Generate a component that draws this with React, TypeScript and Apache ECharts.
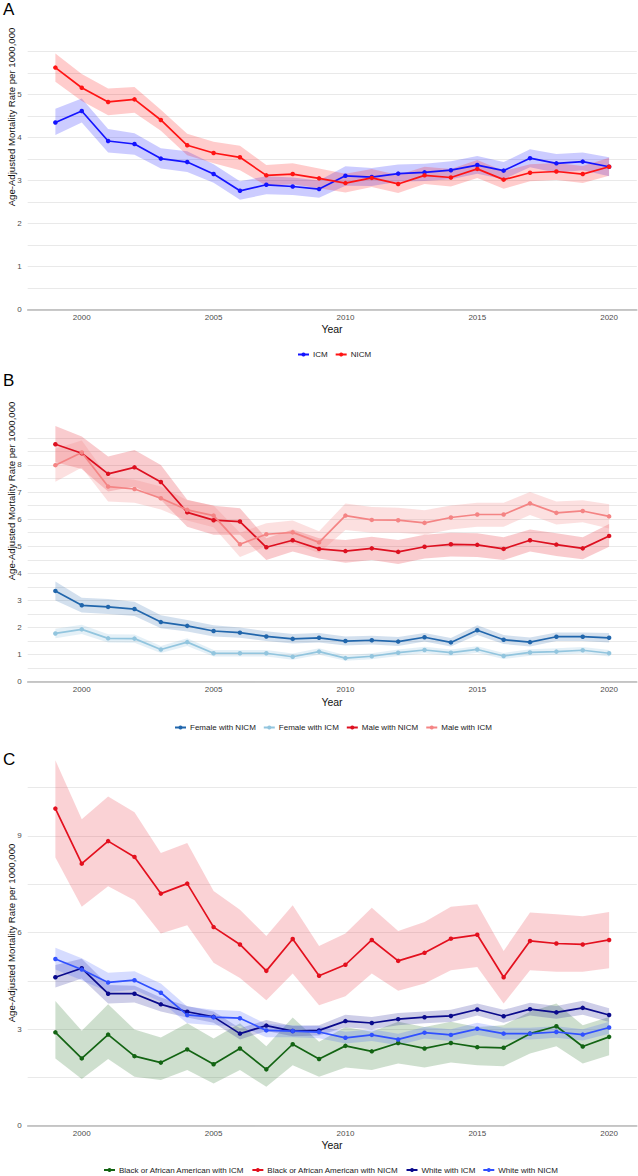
import React, { useEffect, useRef } from "react";
import * as echarts from "echarts";

// Years covered by every panel
const years = [1999, 2000, 2001, 2002, 2003, 2004, 2005, 2006, 2007, 2008, 2009, 2010, 2011, 2012, 2013, 2014, 2015, 2016, 2017, 2018, 2019, 2020];
const yearTicks = [2000, 2005, 2010, 2015, 2020];

// Panel A: overall ICM vs NICM
const icm = [4.35, 4.62, 3.92, 3.85, 3.51, 3.43, 3.15, 2.76, 2.9, 2.86, 2.8, 3.11, 3.08, 3.16, 3.19, 3.24, 3.36, 3.23, 3.52, 3.4, 3.44, 3.32];
const icmLo = [4.06, 4.35, 3.65, 3.6, 3.28, 3.2, 2.95, 2.55, 2.68, 2.66, 2.6, 2.88, 2.87, 2.97, 2.99, 3.03, 3.16, 3.03, 3.31, 3.18, 3.24, 3.1];
const icmHi = [4.67, 4.91, 4.2, 4.1, 3.75, 3.68, 3.38, 2.98, 3.1, 3.07, 3.0, 3.33, 3.29, 3.37, 3.39, 3.45, 3.57, 3.43, 3.73, 3.62, 3.65, 3.54];
const nicm = [5.63, 5.16, 4.83, 4.89, 4.41, 3.82, 3.64, 3.54, 3.12, 3.15, 3.05, 2.94, 3.06, 2.92, 3.12, 3.07, 3.27, 3.02, 3.18, 3.21, 3.15, 3.32];
const nicmLo = [5.3, 4.85, 4.52, 4.58, 4.16, 3.59, 3.4, 3.24, 2.88, 2.91, 2.82, 2.72, 2.85, 2.71, 2.92, 2.86, 3.06, 2.81, 2.98, 3.01, 2.94, 3.11];
const nicmHi = [5.96, 5.48, 5.14, 5.18, 4.65, 4.09, 3.9, 3.81, 3.36, 3.4, 3.28, 3.16, 3.27, 3.13, 3.32, 3.27, 3.48, 3.22, 3.38, 3.41, 3.34, 3.53];

// Panel B: by sex
const femNicm = [3.35, 2.82, 2.76, 2.68, 2.2, 2.06, 1.87, 1.81, 1.67, 1.58, 1.62, 1.5, 1.53, 1.48, 1.64, 1.45, 1.9, 1.55, 1.46, 1.66, 1.66, 1.62];
const femNicmLo = [3.0, 2.55, 2.5, 2.42, 1.97, 1.85, 1.67, 1.62, 1.5, 1.41, 1.45, 1.34, 1.37, 1.32, 1.48, 1.3, 1.72, 1.39, 1.3, 1.5, 1.5, 1.45];
const femNicmHi = [3.7, 3.1, 3.05, 2.95, 2.45, 2.28, 2.08, 2.0, 1.86, 1.76, 1.8, 1.67, 1.7, 1.65, 1.8, 1.61, 2.08, 1.72, 1.63, 1.82, 1.82, 1.8];
const femIcm = [1.78, 1.93, 1.6, 1.59, 1.19, 1.46, 1.05, 1.05, 1.05, 0.92, 1.11, 0.87, 0.94, 1.07, 1.17, 1.07, 1.19, 0.95, 1.08, 1.11, 1.16, 1.05];
const femIcmLo = [1.6, 1.76, 1.45, 1.44, 1.06, 1.32, 0.93, 0.93, 0.93, 0.81, 0.99, 0.77, 0.83, 0.95, 1.05, 0.95, 1.07, 0.84, 0.96, 0.99, 1.04, 0.93];
const femIcmHi = [1.95, 2.1, 1.75, 1.74, 1.32, 1.6, 1.17, 1.17, 1.17, 1.04, 1.23, 0.98, 1.05, 1.19, 1.29, 1.19, 1.31, 1.06, 1.2, 1.23, 1.28, 1.17];
const maleNicm = [8.76, 8.43, 7.67, 7.91, 7.37, 6.25, 5.96, 5.91, 4.96, 5.22, 4.9, 4.82, 4.92, 4.79, 4.98, 5.07, 5.05, 4.9, 5.22, 5.06, 4.92, 5.38];
const maleNicmLo = [8.1, 7.85, 7.02, 7.2, 6.71, 5.72, 5.42, 5.42, 4.49, 4.8, 4.55, 4.39, 4.49, 4.34, 4.55, 4.62, 4.6, 4.49, 4.8, 4.64, 4.52, 4.98];
const maleNicmHi = [9.44, 9.05, 8.31, 8.55, 8.0, 6.71, 6.49, 6.4, 5.29, 5.62, 5.29, 5.23, 5.35, 5.23, 5.42, 5.5, 5.48, 5.33, 5.62, 5.48, 5.33, 5.82];
const maleIcm = [7.99, 8.46, 7.2, 7.11, 6.77, 6.34, 6.13, 5.07, 5.44, 5.51, 5.14, 6.13, 5.97, 5.96, 5.86, 6.06, 6.17, 6.17, 6.58, 6.23, 6.3, 6.1];
const maleIcmLo = [7.38, 7.9, 6.65, 6.6, 6.35, 5.95, 5.7, 4.6, 5.0, 5.1, 4.75, 5.6, 5.5, 5.5, 5.42, 5.62, 5.72, 5.72, 6.15, 5.8, 5.88, 5.65];
const maleIcmHi = [8.6, 8.9, 7.55, 7.45, 7.2, 6.7, 6.5, 5.5, 5.85, 5.95, 5.55, 6.58, 6.45, 6.42, 6.33, 6.5, 6.6, 6.6, 7.0, 6.65, 6.7, 6.55];

// Panel C: by race
const blackIcm = [2.9, 2.09, 2.83, 2.16, 1.96, 2.37, 1.91, 2.4, 1.75, 2.53, 2.07, 2.48, 2.31, 2.57, 2.4, 2.57, 2.44, 2.42, 2.86, 3.09, 2.46, 2.76];
const blackIcmLo = [2.09, 1.45, 2.07, 1.52, 1.42, 1.73, 1.31, 1.73, 1.21, 1.88, 1.52, 1.81, 1.73, 1.93, 1.81, 1.96, 1.88, 1.85, 2.24, 2.47, 1.93, 2.19];
const blackIcmHi = [3.87, 2.95, 3.77, 2.99, 2.74, 3.18, 2.71, 3.18, 2.47, 3.36, 2.61, 3.07, 2.92, 3.23, 3.07, 3.23, 3.07, 3.12, 3.54, 3.8, 3.12, 3.38];
const blackNicm = [9.85, 8.14, 8.84, 8.35, 7.21, 7.52, 6.17, 5.63, 4.81, 5.8, 4.66, 5.0, 5.77, 5.12, 5.37, 5.81, 5.93, 4.61, 5.74, 5.66, 5.63, 5.77];
const blackNicmLo = [8.33, 6.8, 7.44, 7.0, 5.97, 6.23, 5.06, 4.59, 3.9, 4.73, 3.74, 4.02, 4.73, 4.19, 4.42, 4.83, 4.93, 3.8, 4.83, 4.78, 4.78, 4.89];
const blackNicmHi = [11.35, 9.52, 10.23, 9.74, 8.47, 8.78, 7.29, 6.71, 5.89, 6.85, 5.58, 5.97, 6.77, 6.05, 6.33, 6.8, 6.88, 5.43, 6.62, 6.57, 6.51, 6.64];
const whiteIcm = [4.61, 4.89, 4.1, 4.1, 3.77, 3.54, 3.38, 2.86, 3.11, 2.94, 2.96, 3.25, 3.19, 3.31, 3.37, 3.41, 3.61, 3.4, 3.62, 3.52, 3.66, 3.44];
const whiteIcmLo = [4.29, 4.57, 3.8, 3.83, 3.55, 3.36, 3.2, 2.68, 2.94, 2.78, 2.8, 3.06, 3.0, 3.12, 3.18, 3.22, 3.42, 3.2, 3.42, 3.32, 3.45, 3.22];
const whiteIcmHi = [4.99, 5.19, 4.37, 4.35, 3.98, 3.72, 3.55, 3.03, 3.28, 3.1, 3.12, 3.45, 3.38, 3.5, 3.55, 3.6, 3.8, 3.6, 3.82, 3.72, 3.88, 3.65];
const whiteNicm = [5.18, 4.85, 4.45, 4.52, 4.13, 3.44, 3.37, 3.34, 2.96, 2.94, 2.91, 2.73, 2.82, 2.68, 2.89, 2.82, 3.01, 2.86, 2.86, 2.91, 2.83, 3.05];
const whiteNicmLo = [4.85, 4.52, 4.15, 4.22, 3.85, 3.18, 3.12, 3.1, 2.75, 2.75, 2.72, 2.55, 2.63, 2.5, 2.71, 2.63, 2.82, 2.68, 2.68, 2.73, 2.65, 2.86];
const whiteNicmHi = [5.53, 5.2, 4.75, 4.8, 4.42, 3.7, 3.6, 3.56, 3.16, 3.12, 3.1, 2.92, 3.0, 2.86, 3.07, 3.0, 3.2, 3.04, 3.04, 3.09, 3.0, 3.23];

const FONT = "Liberation Sans, Arial, sans-serif";
const YTITLE = "Age-Adjusted Mortality Rate per 1000,000";

type Trend = {
  name: string;
  values: number[];
  lo: number[];
  hi: number[];
  color: string;
  band: string;
  bandOpacity: number;
};

const panelA: Trend[] = [
  { name: "ICM", values: icm, lo: icmLo, hi: icmHi, color: "#1414ff", band: "#0000ff", bandOpacity: 0.2 },
  { name: "NICM", values: nicm, lo: nicmLo, hi: nicmHi, color: "#ff1414", band: "#ff0000", bandOpacity: 0.2 },
];
const panelB: Trend[] = [
  { name: "Female with NICM", values: femNicm, lo: femNicmLo, hi: femNicmHi, color: "#2166ac", band: "#2166ac", bandOpacity: 0.2 },
  { name: "Female with ICM", values: femIcm, lo: femIcmLo, hi: femIcmHi, color: "#92c5de", band: "#92c5de", bandOpacity: 0.25 },
  { name: "Male with NICM", values: maleNicm, lo: maleNicmLo, hi: maleNicmHi, color: "#dd1020", band: "#e8303c", bandOpacity: 0.25 },
  { name: "Male with ICM", values: maleIcm, lo: maleIcmLo, hi: maleIcmHi, color: "#f48484", band: "#f48484", bandOpacity: 0.25 },
];
const panelC: Trend[] = [
  { name: "Black or African American with ICM", values: blackIcm, lo: blackIcmLo, hi: blackIcmHi, color: "#136413", band: "#1f6e1f", bandOpacity: 0.22 },
  { name: "Black or African American with NICM", values: blackNicm, lo: blackNicmLo, hi: blackNicmHi, color: "#e3101e", band: "#ea3040", bandOpacity: 0.22 },
  { name: "White with ICM", values: whiteIcm, lo: whiteIcmLo, hi: whiteIcmHi, color: "#0a0a8c", band: "#0a0a8c", bandOpacity: 0.2 },
  { name: "White with NICM", values: whiteNicm, lo: whiteNicmLo, hi: whiteNicmHi, color: "#3050ff", band: "#3050ff", bandOpacity: 0.2 },
];

function pairs(vals: number[]) {
  return years.map((y, i) => [y, vals[i]]);
}

// Confidence ribbon: one polygon through the upper bounds and back along the lower bounds
function bandSeries(t: Trend, p: number) {
  return {
    type: "custom",
    name: `band-${p}-${t.name}`,
    xAxisIndex: p,
    yAxisIndex: p,
    silent: true,
    z: 1,
    data: [[years[0], t.lo[0]]],
    renderItem: (_params: any, api: any) => {
      const upper = years.map((y, i) => api.coord([y, t.hi[i]]));
      const lower = years.map((y, i) => api.coord([y, t.lo[i]])).reverse();
      return {
        type: "polygon",
        shape: { points: upper.concat(lower) },
        style: { fill: t.band, opacity: t.bandOpacity },
      };
    },
  };
}

function lineSeries(t: Trend, p: number) {
  return {
    type: "line",
    name: t.name,
    xAxisIndex: p,
    yAxisIndex: p,
    data: pairs(t.values),
    symbol: "circle",
    symbolSize: 4.5,
    clip: false,
    z: 3,
    itemStyle: { color: t.color },
    lineStyle: { color: t.color, width: 1.7 },
  };
}

// Plot-area geometry of the three stacked panels
const grids = [
  { top: 51.7, height: 257.6, max: 6, step: 0.5, labelEvery: 1, labelMax: 5 },
  { top: 437.8, height: 243.9, max: 9, step: 0.5, labelEvery: 1, labelMax: 8 },
  { top: 787.7, height: 338, max: 10.5, step: 1.5, labelEvery: 3, labelMax: 9 },
];

export default function App() {
  const ref = useRef<HTMLDivElement>(null);

  useEffect(() => {
    if (!ref.current) return;
    const chart = echarts.init(ref.current, undefined, { renderer: "svg" });
    const panels = [panelA, panelB, panelC];

    const series: any[] = [];
    panels.forEach((panel, p) => {
      panel.forEach((t) => series.push(bandSeries(t, p)));
    });
    panels.forEach((panel, p) => {
      panel.forEach((t) => series.push(lineSeries(t, p)));
    });

    const legendBase = {
      orient: "horizontal",
      padding: 0,
      itemWidth: 11,
      itemHeight: 5,
      itemGap: 7,
      textStyle: { fontFamily: FONT, fontSize: 8, color: "#1a1a1a", padding: [0, 0, 0, -1] },
      selectedMode: false,
    };

    const titleText = (x: number, y: number, text: string, size: number, rot = 0) => ({
      type: "text",
      x,
      y,
      rotation: rot,
      style: {
        text,
        fontFamily: FONT,
        fontSize: size,
        fill: "#111",
        align: "center",
        verticalAlign: "middle",
      },
    });

    chart.setOption({
      animation: false,
      backgroundColor: "#ffffff",
      grid: grids.map((g) => ({ left: 27.7, width: 609.1, top: g.top, height: g.height })),
      xAxis: grids.map((_g, i) => ({
        type: "value",
        gridIndex: i,
        min: 1997.95,
        max: 2021.05,
        splitLine: { show: false },
        axisTick: { show: false },
        axisLine: { show: true, onZero: true, lineStyle: { color: "#b8b8b8", width: 1.6 } },
        axisLabel: {
          customValues: yearTicks,
          formatter: (v: number) => String(v),
          color: "#4d4d4d",
          fontFamily: FONT,
          fontSize: 8,
          margin: 4,
        },
      })),
      yAxis: grids.map((g, i) => ({
        type: "value",
        gridIndex: i,
        min: 0,
        max: g.max,
        interval: g.step,
        axisLine: { show: false },
        axisTick: { show: false },
        splitLine: { show: true, lineStyle: { color: "#e9e9e9", width: 1 } },
        axisLabel: {
          color: "#4d4d4d",
          fontFamily: FONT,
          fontSize: 8,
          margin: 6,
          formatter: (v: number) => {
            const r = Math.round(v * 100) / 100;
            if (r > g.labelMax) return "";
            return Math.abs(r / g.labelEvery - Math.round(r / g.labelEvery)) < 1e-6 ? String(r) : "";
          },
        },
      })),
      legend: [
        { ...legendBase, left: 297, top: 350.5, data: panelA.map((t) => t.name) },
        { ...legendBase, left: 174, top: 723.5, data: panelB.map((t) => t.name) },
        { ...legendBase, left: 103, top: 1166, data: panelC.map((t) => t.name) },
      ],
      graphic: [
        { type: "text", x: 3, y: 1, style: { text: "A", fontFamily: FONT, fontSize: 17, fill: "#000" } },
        { type: "text", x: 3, y: 372, style: { text: "B", fontFamily: FONT, fontSize: 17, fill: "#000" } },
        { type: "text", x: 3, y: 751, style: { text: "C", fontFamily: FONT, fontSize: 17, fill: "#000" } },
        titleText(11, 117, YTITLE, 9.6, Math.PI / 2),
        titleText(11, 491, YTITLE, 9.6, Math.PI / 2),
        titleText(11, 933, YTITLE, 9.6, Math.PI / 2),
        titleText(332, 328.5, "Year", 10.5),
        titleText(332, 701.5, "Year", 10.5),
        titleText(332, 1144.5, "Year", 10.5),
      ],
      series,
    });

    return () => chart.dispose();
  }, []);

  return (
    <div
      ref={ref}
      style={{ position: "absolute", left: 0, top: 0, width: 638, height: 1176 }}
    />
  );
}
